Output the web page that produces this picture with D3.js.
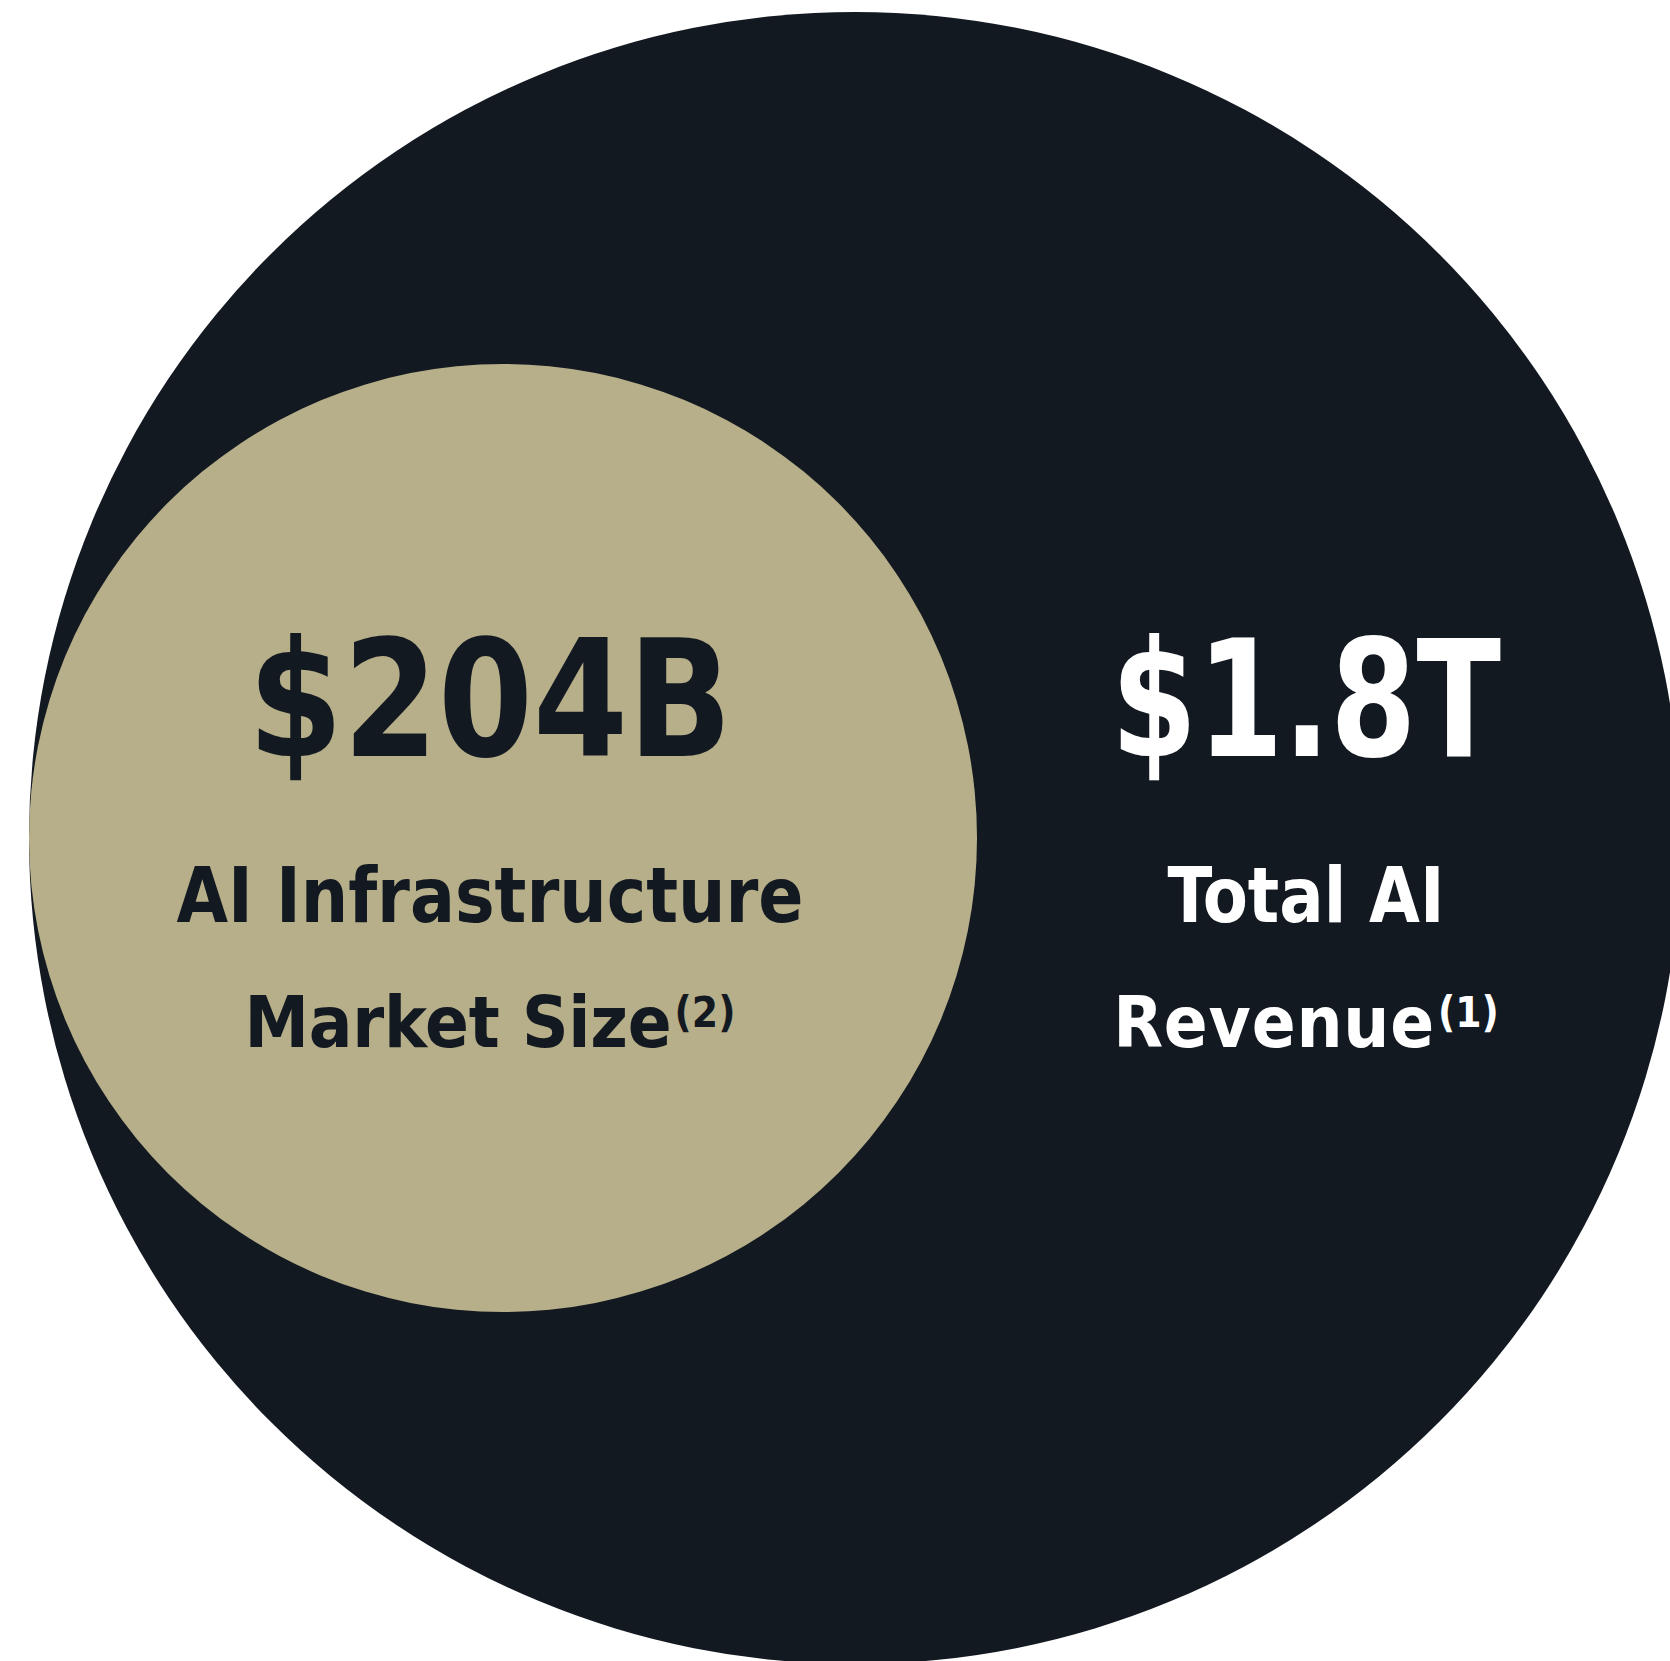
<!DOCTYPE html>
<html>
<head>
<meta charset="utf-8">
<script src="https://cdn.jsdelivr.net/npm/d3@7"></script>
<style>
  html, body { margin: 0; padding: 0; background: #ffffff; }
  svg { display: block; }
  text { font-family: "DejaVu Sans Condensed", "DejaVu Sans", sans-serif; font-stretch: condensed; font-weight: 700; }
</style>
</head>
<body>
<svg id="chart"></svg>
<script>
// ---- data ----
const categories = ["Total AI Revenue", "AI Infrastructure Market Size"];
const valuesB = [1800, 204];               // in $ billions
const valueLabels = ["$1.8T", "$204B"];
const labelLine1 = ["Total AI", "AI Infrastructure"];
const labelLine2 = ["Revenue", "Market Size"];
const footnotes = ["(1)", "(2)"];
const fillColors = ["#131921", "#b7af8a"];
const textColors = ["#ffffff", "#131921"];

// ---- layout ----
const W = 1670, H = 1661;
const svg = d3.select("#chart").attr("width", W).attr("height", H);

const rScale = d3.scaleLinear().domain([204, 1800]).range([474, 826]);

const bigR = rScale(valuesB[0]);
const bigCx = 855, cy = 838;
const leftEdge = bigCx - bigR;
const smallR = rScale(valuesB[1]);
const smallCx = leftEdge + smallR;

// text layout
const numWidths = [390, 484];
const line1Widths = [277, 627];
const line2Spacing = [0.8, -0.2];
const textCenters = [1306, 490];

const nodes = categories.map((c, i) => ({
  name: c,
  value: valuesB[i],
  r: rScale(valuesB[i]),
  cx: i === 0 ? bigCx : smallCx,
  cy: cy,
  fill: fillColors[i],
  textColor: textColors[i],
  label: valueLabels[i],
  l1: labelLine1[i],
  l2: labelLine2[i],
  fn: footnotes[i],
  tx: textCenters[i],
  numW: numWidths[i],
  l1W: line1Widths[i],
  ls: line2Spacing[i]
}));

svg.selectAll("circle.bubble")
  .data(nodes)
  .join("circle")
  .attr("class", "bubble")
  .attr("cx", d => d.cx)
  .attr("cy", d => d.cy)
  .attr("r", d => d.r)
  .attr("fill", d => d.fill);

const g = svg.selectAll("g.lbl").data(nodes).join("g").attr("class", "lbl");

g.append("text")
  .attr("x", d => d.tx)
  .attr("y", 756)
  .attr("text-anchor", "middle")
  .attr("fill", d => d.textColor)
  .attr("font-size", 162)
  .attr("textLength", d => d.numW)
  .attr("lengthAdjust", "spacingAndGlyphs")
  .text(d => d.label);

g.append("text")
  .attr("x", d => d.tx)
  .attr("y", 922)
  .attr("text-anchor", "middle")
  .attr("fill", d => d.textColor)
  .attr("font-size", 77)
  .attr("textLength", d => d.l1W)
  .attr("lengthAdjust", "spacingAndGlyphs")
  .text(d => d.l1);

const t2 = g.append("text")
  .attr("x", d => d.tx)
  .attr("y", 1047)
  .attr("text-anchor", "middle")
  .attr("fill", d => d.textColor)
  .attr("font-size", 72);
t2.append("tspan")
  .attr("letter-spacing", d => d.ls)
  .text(d => d.l2);
t2.append("tspan")
  .attr("dx", 3)
  .attr("dy", -20)
  .attr("font-size", 42)
  .text(d => d.fn);
</script>
</body>
</html>
